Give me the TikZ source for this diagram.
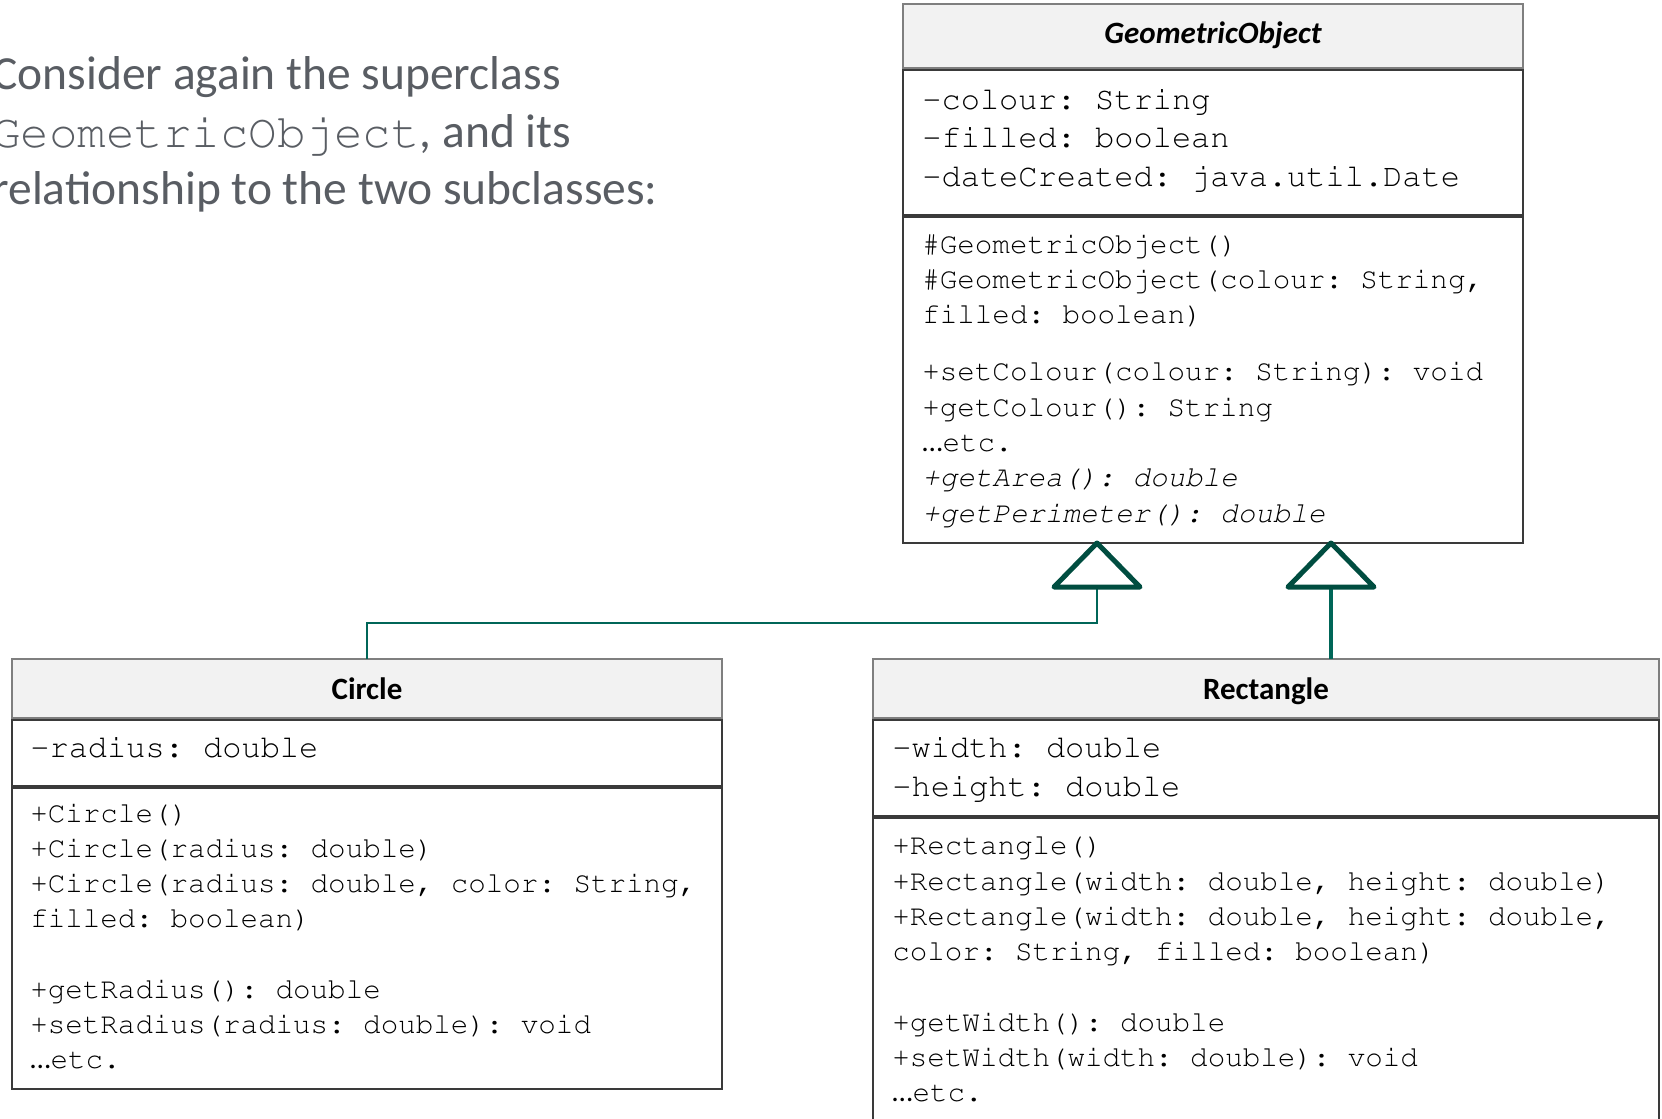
\documentclass[tikz,border=0pt]{standalone}
\usepackage[T1]{fontenc}
\usepackage{fontspec}
\setmainfont{Carlito}
\setmonofont{Liberation Mono}
\newcommand\courfam{\fontencoding{T1}\fontfamily{pcr}\selectfont\frenchspacing}
\newcommand\myellip{{\fontencoding{TU}\rmfamily\mdseries\upshape …}}
\definecolor{introgray}{RGB}{89,93,99}
\definecolor{hdrfill}{HTML}{F2F2F2}
\definecolor{hdrline}{HTML}{7F7F7F}
\definecolor{boxline}{HTML}{3A3A3A}
\definecolor{conncol}{RGB}{0,102,88}
\definecolor{tricol}{RGB}{0,77,64}
\begin{document}
\begin{tikzpicture}[x=0.5pt,y=-0.5pt,
  hdr/.style={draw=hdrline, fill=hdrfill, line width=0.75pt, inner sep=0pt, outer sep=0pt},
  cmp/.style={draw=boxline, fill=white, line width=0.75pt, inner sep=0pt, outer sep=0pt},
  title/.style={font=\fontsize{15.5}{18}\selectfont\bfseries, anchor=base, inner sep=0pt},
  attr/.style={font=\courfam\fontsize{16}{19}\selectfont, anchor=base west, inner sep=0pt},
  meth/.style={font=\courfam\fontsize{14.6}{17}\selectfont, anchor=base west, inner sep=0pt},
  intro/.style={font=\fontsize{23.75}{28}\selectfont, text=introgray, anchor=base west, inner sep=0pt},
  conn/.style={draw=conncol, line width=1pt},
  connthick/.style={draw=conncol, line width=2pt},
  tri/.style={draw=tricol, line width=2.5pt, line join=round, fill=white}]
\useasboundingbox (0,0) rectangle (1662,1119);

% intro text
\node[intro] (i1) at (-8,90) {Consider again the superclass};
\node[intro] (i2) at (-8,147) {{\courfam GeometricObject}, and its};
\node[intro] (i3) at (-8,204) {relationship to the two subclasses:};

% GeometricObject
\node[hdr, minimum width=310pt, minimum height=32pt] (goH) at (1213,36) {};
\node[cmp, minimum width=310pt, minimum height=72.5pt] (goA) at (1213,142.5) {};
\node[cmp, minimum width=310pt, minimum height=163pt] (goM) at (1213,380) {};
\node[title, font=\fontsize{15.5}{18}\selectfont\bfseries\itshape] (goT) at (1213,43) {GeometricObject};
\node[attr] (goa1) at (922,109) {-colour: String};
\node[attr] (goa2) at (922,147) {-filled: boolean};
\node[attr] (goa3) at (922,186) {-dateCreated: java.util.Date};
\node[meth] (gom1) at (922,253) {\#GeometricObject()};
\node[meth] (gom2) at (922,288) {\#GeometricObject(colour: String,};
\node[meth] (gom3) at (922,323) {filled: boolean)};
\node[meth] (gom4) at (922,380) {+setColour(colour: String): void};
\node[meth] (gom5) at (922,416) {+getColour(): String};
\node[meth] (gom6) at (922,451) {\myellip etc.};
\node[meth] (gom7) at (922,486) {\itshape +getArea(): double};
\node[meth] (gom8) at (922,522) {\itshape +getPerimeter(): double};

% Circle
\node[hdr, minimum width=355pt, minimum height=29.5pt] (ciH) at (367,688.5) {};
\node[cmp, minimum width=355pt, minimum height=33pt] (ciA) at (367,753) {};
\node[cmp, minimum width=355pt, minimum height=150.5pt] (ciM) at (367,938.5) {};
\node[title] (ciT) at (367,699) {Circle};
\node[attr] (cia1) at (30,757) {-radius: double};
\node[meth] (cim1) at (30,822) {+Circle()};
\node[meth] (cim2) at (30,857) {+Circle(radius: double)};
\node[meth] (cim3) at (30,892) {+Circle(radius: double, color: String,};
\node[meth] (cim4) at (30,927) {filled: boolean)};
\node[meth] (cim5) at (30,998) {+getRadius(): double};
\node[meth] (cim6) at (30,1033) {+setRadius(radius: double): void};
\node[meth] (cim7) at (30,1068) {\myellip etc.};

% Rectangle
\node[hdr, minimum width=393pt, minimum height=29.5pt] (reH) at (1266,688.5) {};
\node[cmp, minimum width=393pt, minimum height=48pt] (reA) at (1266,768) {};
\node[cmp, minimum width=393pt, minimum height=158.5pt] (reM) at (1266,976.5) {};
\node[title] (reT) at (1266,699) {Rectangle};
\node[attr] (rea1) at (892,757) {-width: double};
\node[attr] (rea2) at (892,796) {-height: double};
\node[meth] (rem1) at (892,854) {+Rectangle()};
\node[meth] (rem2) at (892,890) {+Rectangle(width: double, height: double)};
\node[meth] (rem3) at (892,925) {+Rectangle(width: double, height: double,};
\node[meth] (rem4) at (892,960) {color: String, filled: boolean)};
\node[meth] (rem5) at (892,1031) {+getWidth(): double};
\node[meth] (rem6) at (892,1066) {+setWidth(width: double): void};
\node[meth] (rem7) at (892,1101) {\myellip etc.};

% inheritance connectors
\coordinate (apL) at (1097,0 |- goM.south);
\coordinate (apR) at (1331,0 |- goM.south);
\coordinate (bsL) at ([yshift=-22pt]apL);
\coordinate (bsR) at ([yshift=-22pt]apR);
\draw[conn] (ciH.north) |- ([yshift=-18pt]bsL) -- (bsL);
\draw[connthick] (bsR |- reH.north) -- (bsR);
\draw[tri] (apL) -- ++(-43,44) -- ++(86,0) -- cycle;
\draw[tri] (apR) -- ++(-43,44) -- ++(86,0) -- cycle;
\end{tikzpicture}
\end{document}
